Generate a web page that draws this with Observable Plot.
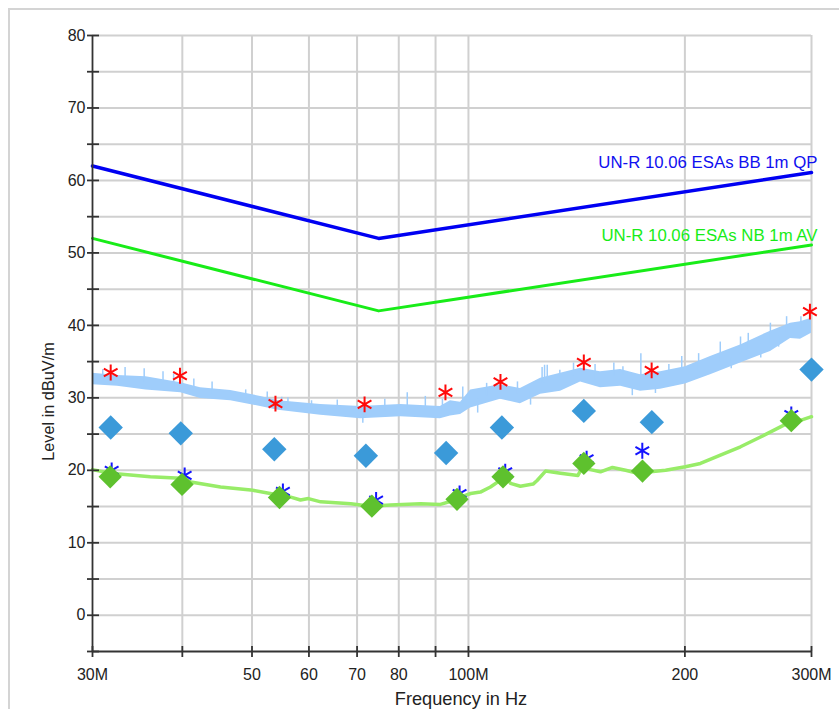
<!DOCTYPE html>
<html><head><meta charset="utf-8">
<script src="https://cdn.jsdelivr.net/npm/d3@7"></script>
<script src="https://cdn.jsdelivr.net/npm/@observablehq/plot@0.6"></script>
<style>
body{margin:0;background:#fff;}
#frame{position:absolute;left:8px;top:8px;width:1000px;height:1000px;border-top:2px solid #d4d4d4;border-left:2px solid #d4d4d4;pointer-events:none}
#chart{position:absolute;left:0;top:0}
</style></head><body>
<div id="frame"></div><div id="chart"></div>
<script>
// Limit lines (MHz, dBuV/m)
const limitBBFreq = [30, 75, 300];
const limitBBLevel = [62, 52, 61.1];
const limitNBFreq = [30, 75, 300];
const limitNBLevel = [52, 42, 51.1];
const limitBBName = "UN-R 10.06 ESAs BB 1m QP";
const limitNBName = "UN-R 10.06 ESAs NB 1m AV";

// Peak scan trace (light blue band: lower / upper envelope)
const peakFreq = [30, 32.5, 35.6, 39.8, 42.4, 46.7, 51.4, 54.4, 62.3, 70.8, 80.5, 91.4, 94.4, 97.5, 100.7, 110.8, 118.1, 126.0, 134.3, 143.2, 152.6, 162.8, 173.5, 185.0, 200.3, 217.1, 239.0, 263.1, 280.5, 289.6, 300];
const peakLow = [31.8, 31.6, 31.1, 30.7, 29.9, 29.6, 28.8, 28.3, 27.6, 27.1, 27.4, 27.1, 27.5, 27.7, 28.6, 29.8, 29.2, 30.5, 30.9, 32.2, 31.4, 31.6, 30.9, 31.2, 31.9, 33.2, 34.8, 36.4, 38.2, 38.1, 38.9];
const peakHigh = [33.4, 33.1, 32.9, 32.1, 31.4, 31.0, 30.2, 29.6, 29.1, 28.8, 29.1, 28.8, 29.6, 29.4, 31.1, 31.8, 31.3, 32.7, 33.4, 34.1, 33.6, 33.9, 33.2, 33.6, 34.3, 35.7, 37.3, 39.2, 40.3, 40.5, 41.0];
// Peak trace spikes (upward and downward excursions)
const spikeFreq = [31.0, 33.3, 35.4, 37.6, 38.9, 41.5, 44.0, 49.0, 52.5, 55.0, 56.1, 60.5, 65.7, 71.3, 76.5, 82.2, 87.1, 92.0, 98.2, 103.0, 106.0, 117.0, 122.0, 126.6, 127.6, 128.7, 134.0, 140.0, 150.0, 159.3, 164.0, 169.0, 173.7, 182.0, 190.0, 198.0, 209.0, 224.0, 232.0, 239.0, 245.0, 255.0, 263.0, 270.0, 277.0, 290.0];
const spikeBase = [32.5, 32.5, 32.0, 31.8, 31.5, 31.0, 30.5, 30.0, 29.5, 29.0, 29.0, 28.5, 28.4, 28.0, 28.2, 28.5, 28.3, 28.2, 29.0, 29.8, 30.2, 30.5, 30.8, 32.0, 32.0, 32.5, 32.5, 33.0, 32.5, 33.0, 33.0, 32.5, 32.5, 32.5, 33.0, 33.0, 33.5, 35.0, 35.5, 36.0, 36.5, 37.0, 37.5, 38.5, 39.0, 39.5];
const spikeTop = [33.9, 34.2, 34.0, 33.6, 33.3, 32.6, 32.2, 31.1, 30.8, 30.1, 30.0, 29.6, 29.7, 26.5, 29.8, 30.7, 30.2, 29.8, 31.5, 27.9, 32.0, 32.2, 29.0, 34.2, 34.5, 34.5, 33.8, 34.8, 34.6, 34.8, 34.3, 30.3, 36.1, 30.6, 34.6, 35.7, 36.1, 37.7, 34.0, 38.4, 38.9, 35.5, 40.3, 37.0, 41.2, 41.2];

// Average scan trace (light green)
const avgFreq = [30, 31.8, 36.1, 39.8, 41.1, 45.2, 49.8, 53.0, 56.6, 58.4, 59.9, 62.3, 68.6, 73.1, 77.9, 85.8, 91.4, 95.9, 97.5, 100.7, 103.9, 107.3, 110.8, 112.6, 114.4, 118.1, 123.0, 124.6, 128.0, 134.3, 142.0, 143.2, 144.5, 147.8, 152.6, 158.6, 165.4, 173.5, 179.2, 188.0, 200.3, 210.2, 224.1, 239.0, 254.8, 271.6, 280.5, 289.6, 300];
const avgLevel = [20.1, 19.6, 19.1, 18.9, 18.4, 17.7, 17.3, 16.8, 16.3, 15.9, 16.1, 15.65, 15.4, 15.05, 15.2, 15.4, 15.3, 15.9, 16.3, 16.8, 17.0, 17.7, 18.65, 19.3, 18.2, 17.8, 18.1, 18.6, 19.9, 19.6, 19.3, 20.0, 20.95, 20.1, 19.8, 20.4, 20.0, 19.5, 19.8, 20.0, 20.5, 20.95, 22.1, 23.25, 24.6, 26.0, 26.7, 26.9, 27.4];

// Final measurements
const peakMarkFreq = [31.8, 39.7, 53.9, 71.7, 92.9, 110.8, 144.7, 179.8, 298.5];
const peakMarkLevel = [33.5, 33.05, 29.2, 29.1, 30.76, 32.2, 34.9, 33.8, 41.9];
const avgMarkFreq = [31.9, 40.3, 55.2, 74.4, 97.2, 112.5, 146.0, 174.5, 281.2];
const avgMarkLevel = [20.0, 19.3, 17.1, 15.9, 16.8, 19.8, 21.6, 22.7, 27.7];
const qpFreq = [31.8, 39.8, 53.7, 72.0, 93.1, 111.3, 144.7, 179.9, 300];
const qpLevel = [25.9, 25.1, 22.9, 22.0, 22.4, 25.9, 28.2, 26.65, 33.9];
const avFreq = [31.75, 39.96, 54.6, 73.4, 96.4, 111.7, 144.7, 174.6, 281.2];
const avLevel = [19.1, 18.05, 16.25, 15.05, 16.0, 19.1, 20.95, 19.9, 26.85];

// Axes
const xGridVals = [40, 50, 60, 70, 80, 90, 100, 200, 300];
const xTickVals = [30, 40, 50, 60, 70, 80, 90, 100, 200, 300];
const xLabelVals = [30, 50, 60, 70, 80, 90, 100, 200, 300];
const xLabelText = ["30M", "50", "60", "70", "80", "90", "100M", "200", "300M"];
const yGridVals = [0, 5, 10, 15, 20, 25, 30, 35, 40, 45, 50, 55, 60, 65, 70, 75, 80];
const yTickVals = [-5, 0, 5, 10, 15, 20, 25, 30, 35, 40, 45, 50, 55, 60, 65, 70, 75, 80];
const yLabelVals = [0, 10, 20, 30, 40, 50, 60, 70, 80];
const xDomain = [30, 300];
const yDomain = [-5, 80];
const xTitle = "Frequency in Hz";
const yTitle = "Level in dBuV/m";

const pts = (fs, vs) => fs.map((f, i) => ({f, v: vs[i]}));
const band = peakFreq.map((f, i) => ({f, lo: peakLow[i], hi: peakHigh[i]}));
const spikes = spikeFreq.map((f, i) => ({f, b: spikeBase[i], t: spikeTop[i]}));
const xLabelMap = new Map(xLabelVals.map((v, i) => [v, xLabelText[i]]));
const axisColor = "#333";
const gridColor = "#d0d0d0";
const last = a => a[a.length - 1];
const yMid = (yDomain[0] + yDomain[1]) / 2;

const chart = Plot.plot({
  width: 839, height: 709,
  marginLeft: 92, marginRight: 28, marginTop: 35, marginBottom: 58,
  style: {fontFamily: "'Liberation Sans', Arial, sans-serif", fontSize: "16px", color: "#222", background: "transparent", overflow: "visible"},
  x: {type: "log", domain: xDomain, axis: null},
  y: {domain: yDomain, axis: null},
  marks: [
    Plot.gridX(xGridVals, {stroke: gridColor, strokeOpacity: 1, strokeWidth: 2}),
    Plot.gridY(yGridVals, {stroke: gridColor, strokeOpacity: 1, strokeWidth: 2}),
    Plot.areaY(band, {x: "f", y1: "lo", y2: "hi", fill: "#9fcdfb"}),
    Plot.ruleX(spikes, {x: "f", y1: "b", y2: "t", stroke: "#9fcdfb", strokeWidth: 1.5}),
    Plot.line(pts(avgFreq, avgLevel), {x: "f", y: "v", stroke: "#98ec68", strokeWidth: 3.5}),
    Plot.line(pts(limitBBFreq, limitBBLevel), {x: "f", y: "v", stroke: "#0000f2", strokeWidth: 3.5}),
    Plot.line(pts(limitNBFreq, limitNBLevel), {x: "f", y: "v", stroke: "#18ec18", strokeWidth: 3}),
    Plot.ruleX([xDomain[0]], {stroke: axisColor, strokeWidth: 1.8}),
    Plot.ruleY([yDomain[0]], {stroke: axisColor, strokeWidth: 1.8}),
    Plot.axisY(yTickVals, {anchor: "left", tickSize: 12, dx: 7, fill: "none", stroke: axisColor, strokeWidth: 1.8, label: null}),
    Plot.axisY(yLabelVals, {anchor: "left", tickSize: 0, tickPadding: 7, stroke: "none", fill: "#222", fontSize: 16, label: null}),
    Plot.axisX(xTickVals, {anchor: "bottom", tickSize: 11, dy: -5, fill: "none", stroke: axisColor, strokeWidth: 1.8, label: null}),
    Plot.axisX(xLabelVals, {anchor: "bottom", tickSize: 0, tickPadding: 17, stroke: "none", fill: "#222", fontSize: 16, tickFormat: d => xLabelMap.get(d), label: null}),
    Plot.dot(pts(peakMarkFreq, peakMarkLevel), {x: "f", y: "v", symbol: "asterisk", r: 7.5, stroke: "#ff0a0a", strokeWidth: 2}),
    Plot.dot(pts(avgMarkFreq, avgMarkLevel), {x: "f", y: "v", symbol: "asterisk", r: 7.5, stroke: "#1414ff", strokeWidth: 2}),
    Plot.dot(pts(qpFreq, qpLevel), {x: "f", y: "v", symbol: "diamond2", r: 11, fill: "#3b9ad9", stroke: "none"}),
    Plot.dot(pts(avFreq, avLevel), {x: "f", y: "v", symbol: "diamond2", r: 10.5, fill: "#5ec12e", stroke: "none"}),
    Plot.text([limitBBName], {x: last(limitBBFreq), y: last(limitBBLevel), text: d => d, textAnchor: "end", lineAnchor: "bottom", dx: 6, dy: -4, fill: "#1010f0", fontSize: 16.8}),
    Plot.text([limitNBName], {x: last(limitNBFreq), y: last(limitNBLevel), text: d => d, textAnchor: "end", lineAnchor: "bottom", dx: 6, dy: -4, fill: "#18ec18", fontSize: 16.8}),
    Plot.text([xTitle], {frameAnchor: "bottom", text: d => d, dx: 9, dy: 41, lineAnchor: "top", fill: "#222", fontSize: 18.2}),
    Plot.text([yTitle], {x: () => xDomain[0], y: () => yMid, text: d => d, dx: -44, dy: 58, rotate: -90, fill: "#222", fontSize: 16.3})
  ]
});
document.getElementById("chart").appendChild(chart);
</script>
</body></html>
